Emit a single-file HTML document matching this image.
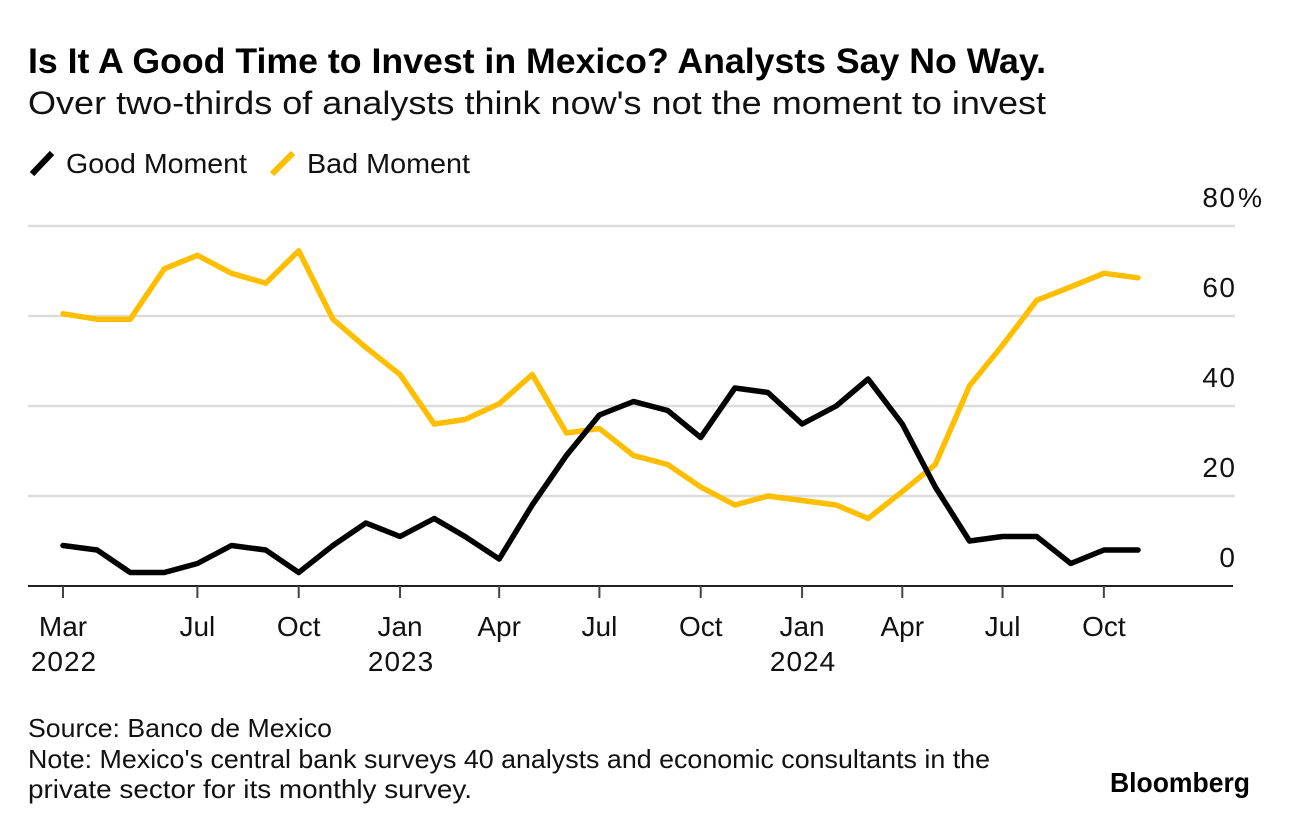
<!DOCTYPE html>
<html lang="en">
<head>
<meta charset="utf-8">
<title>Is It A Good Time to Invest in Mexico?</title>
<style>
  html, body { margin: 0; padding: 0; background: #fff; }
  body { width: 1289px; height: 828px; overflow: hidden; }
  svg { display: block; }
  text { font-family: "Liberation Sans", sans-serif; fill: #111; }
</style>
</head>
<body>
<svg id="chart" width="1289" height="828" viewBox="0 0 1289 828" xmlns="http://www.w3.org/2000/svg">
  <text x="28" y="73" font-size="35" font-weight="700" textLength="1018" lengthAdjust="spacingAndGlyphs" style="fill:#000">Is It A Good Time to Invest in Mexico? Analysts Say No Way.</text>
  <text x="28" y="114" font-size="32" textLength="1018" lengthAdjust="spacingAndGlyphs">Over two-thirds of analysts think now's not the moment to invest</text>

  <g>
    <line x1="32" y1="174" x2="52" y2="153" stroke="#000" stroke-width="6"/>
    <text x="66" y="173" font-size="28" textLength="181" lengthAdjust="spacingAndGlyphs">Good Moment</text>
    <line x1="272" y1="174" x2="293" y2="153" stroke="#ffbf00" stroke-width="6"/>
    <text x="307" y="173" font-size="28" textLength="163" lengthAdjust="spacingAndGlyphs">Bad Moment</text>
  </g>

  <g id="grid"></g>
  <g id="yLabels"></g>
  <g id="xAxis"></g>
  <g id="series"></g>

  <g>
    <text x="28" y="737" font-size="26" textLength="304" lengthAdjust="spacingAndGlyphs">Source: Banco de Mexico</text>
    <text x="28" y="768" font-size="26" textLength="962" lengthAdjust="spacingAndGlyphs">Note: Mexico's central bank surveys 40 analysts and economic consultants in the</text>
    <text x="28" y="798" font-size="26" textLength="444" lengthAdjust="spacingAndGlyphs">private sector for its monthly survey.</text>
    <text x="1110" y="792" font-size="28" font-weight="700" textLength="140" lengthAdjust="spacingAndGlyphs" style="fill:#000">Bloomberg</text>
  </g>
</svg>
<script>
const goodMoment = [9, 8, 3, 3, 5, 9, 8, 3, 9, 14, 11, 15, 11, 6, 18, 29, 38, 41, 39, 33, 44, 43, 36, 40, 46, 36, 22, 10, 11, 11, 5, 8, 8];
const badMoment = [60.5, 59.3, 59.3, 70.5, 73.5, 69.5, 67.3, 74.5, 59.3, 53, 47, 36, 37, 40.5, 47, 34, 35, 29, 27, 22, 18, 20, 19, 18, 15, 21, 27, 44.5, 53.5, 63.5, 66.5, 69.5, 68.5];
const yTicks = [0, 20, 40, 60, 80];
const xTickMonths = [0, 4, 7, 10, 13, 16, 19, 22, 25, 28, 31];
const xTickLabels = ['Mar', 'Jul', 'Oct', 'Jan', 'Apr', 'Jul', 'Oct', 'Jan', 'Apr', 'Jul', 'Oct'];
const yearTickMonths = [0, 10, 22];
const yearLabels = ['2022', '2023', '2024'];

const NS = 'http://www.w3.org/2000/svg';
const monthCount = goodMoment.length;
function monthTime(i) { return Date.UTC(2022, 2 + i, 1); }
function xScale(i) { return 63 + ((monthTime(i) - monthTime(0)) / (monthTime(monthCount - 1) - monthTime(0))) * 1075; }
function yScale(v) { return 586 - v * 4.5; }
function make(tag, attrs, parent) {
  const el = document.createElementNS(NS, tag);
  for (const k in attrs) el.setAttribute(k, attrs[k]);
  parent.appendChild(el);
  return el;
}

const grid = document.getElementById('grid');
const yLabelsG = document.getElementById('yLabels');
yTicks.forEach(function (t) {
  if (t !== 0) {
    const gl = make('line', { x1: 28, x2: 1235, y1: yScale(t), y2: yScale(t), stroke: '#dcdcdc', 'stroke-width': 2.5 }, grid);
    
    
  }
  const label = make('text', { x: 1236.5, y: yScale(t) - 19, 'font-size': 28, 'text-anchor': 'end', 'letter-spacing': 1.5 }, yLabelsG);
  label.textContent = String(t);
  
  
  if (t === 80) {
    const pct = make('text', { x: 1238, y: yScale(t) - 19, 'font-size': 27 }, yLabelsG);
    pct.textContent = '%';
    
    
  }
});

const xAxis = document.getElementById('xAxis');
const baseline = make('line', { x1: 28, x2: 1233, y1: yScale(0), y2: yScale(0), stroke: '#222', 'stroke-width': 2 }, xAxis);


xTickMonths.forEach(function (m, i) {
  const tick = make('line', { x1: xScale(m), x2: xScale(m), y1: yScale(0), y2: yScale(0) + 12, stroke: '#444', 'stroke-width': 2 }, xAxis);
  
  
  const label = make('text', { x: xScale(m), y: 636, 'font-size': 28, 'text-anchor': 'middle' }, xAxis);
  label.textContent = xTickLabels[i];
  
  
});
yearTickMonths.forEach(function (m, i) {
  const label = make('text', { x: xScale(m) + 1, y: 671, 'font-size': 28, 'text-anchor': 'middle', 'letter-spacing': 1 }, xAxis);
  label.textContent = yearLabels[i];
  
  
});

function linePoints(values) {
  return values.map(function (v, i) { return xScale(i).toFixed(1) + ',' + yScale(v).toFixed(1); }).join(' ');
}
const seriesG = document.getElementById('series');
const badLine = make('polyline', { points: linePoints(badMoment), fill: 'none', stroke: '#ffbf00', 'stroke-width': 5.5, 'stroke-linejoin': 'round', 'stroke-linecap': 'round' }, seriesG);


const goodLine = make('polyline', { points: linePoints(goodMoment), fill: 'none', stroke: '#000', 'stroke-width': 5.5, 'stroke-linejoin': 'round', 'stroke-linecap': 'round' }, seriesG);


</script>
</body>
</html>
